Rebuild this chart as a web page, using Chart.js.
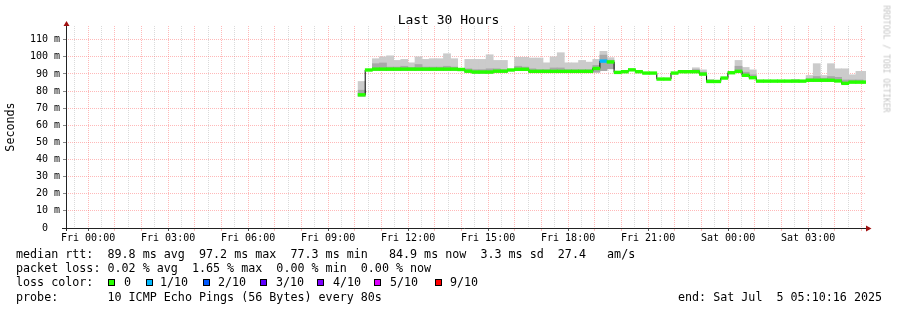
<!DOCTYPE html>
<html>
<head>
<meta charset="utf-8">
<script src="https://cdn.jsdelivr.net/npm/chart.js@4.4.1/dist/chart.umd.min.js"></script>
<style>
html, body { margin: 0; padding: 0; background: #fff; }
#wrap { position: relative; width: 897px; height: 310px; overflow: hidden; font-family: "DejaVu Sans Mono", monospace; color: #000; }
#wrap canvas { position: absolute; left: 0; top: 0; }
.t { position: absolute; white-space: pre; font-size: 11.7px; line-height: 14px; }
.box { position: absolute; width: 5px; height: 5px; border: 1px solid #000; }
#title { position: absolute; left: 0; top: 12px; width: 897px; text-align: center; font-size: 13px; line-height: 15px; }
#mark { position: absolute; left: 886px; top: 59px; font-size: 8.1px; line-height: 9px; color: #c4c4c4; white-space: pre; transform: translate(-50%, -50%) rotate(90deg); }
</style>
</head>
<body>
<div id="wrap">
  <canvas id="c" width="897" height="310"></canvas>
  <div id="title">Last 30 Hours</div>
  <div id="mark">RRDTOOL / TOBI OETIKER</div>
  <div class="t" style="left:16px;top:246.5px">median rtt:  89.8 ms avg  97.2 ms max  77.3 ms min   84.9 ms now  3.3 ms sd  27.4   am/s</div>
  <div class="t" style="left:16px;top:260.5px">packet loss: 0.02 % avg  1.65 % max  0.00 % min  0.00 % now</div>
  <div class="t" style="left:16px;top:275px">loss color:</div>
  <div id="lossKey"></div>
  <div class="t" style="left:16px;top:289.5px">probe:       10 ICMP Echo Pings (56 Bytes) every 80s</div>
  <div class="t" style="left:678px;top:289.5px">end: Sat Jul  5 05:10:16 2025</div>
</div>
<script>
// x axis is in hours counted from Fri 00:00
const startHour = -(49 / 60 + 44 / 3600);   // Thu 23:10:16
const endHour = 29 + 10 / 60 + 16 / 3600;   // Sat 05:10:16
const stepStart = 10.125;                   // first consolidated step
const stepHours = 16 / 60;

// median rtt per step (ms)
const median = [
  77.8, 92.3, 92.8, 92.8, 92.8, 92.8, 92.8, 92.8, 92.8, 92.8,
  92.8, 92.8, 92.8, 92.8, 92.6, 91.6, 91.1, 91.1, 91.1, 91.6,
  91.6, 92.3, 92.7, 92.7, 91.5, 91.5, 91.5, 91.5, 91.5, 91.5,
  91.5, 91.5, 91.5, 93.2, 97.5, 97.0, 90.9, 91.3, 92.4, 91.3,
  90.5, 90.5, 87.0, 87.0, 90.5, 91.3, 91.3, 91.3, 89.9, 85.6,
  85.6, 87.6, 90.7, 91.5, 89.2, 87.8, 85.8, 85.8, 85.8, 85.8,
  85.8, 85.8, 85.8, 86.3, 86.3, 86.3, 86.3, 85.9, 84.5, 85.2,
  85.2, 85.2
];
// loss per step, index into lossColors
const lossIdx = [
  0, 0, 0, 0, 0, 0, 0, 0, 0, 0,
  0, 0, 0, 0, 0, 0, 0, 0, 0, 0,
  0, 0, 0, 0, 0, 0, 0, 0, 0, 0,
  0, 0, 0, 0, 1, 0, 0, 0, 0, 0,
  0, 0, 0, 0, 0, 0, 0, 0, 0, 0,
  0, 0, 0, 0, 0, 0, 0, 0, 0, 0,
  0, 0, 0, 0, 0, 0, 0, 0, 0, 0,
  0, 0
];
// smoke (ping spread), outer light band
const smokeLow = [
  77.0, null, 92.0, 92.0, 92.0, 92.0, 92.0, 92.0, 92.0, 92.0,
  92.0, 92.0, 92.0, 92.0, null, 91.0, 90.5, 90.5, 90.5, 91.0,
  91.0, null, 92.0, 92.0, 91.0, 91.0, 91.0, 91.0, 91.0, 91.0,
  91.0, 91.0, 91.0, 91.0, 91.9, 93.0, null, null, null, null,
  null, null, null, null, null, null, null, 91.0, 89.5, 85.0,
  null, null, null, 91.0, 89.0, 87.5, null, null, null, null,
  null, 85.5, null, 86.0, 86.0, 86.0, 86.0, 85.5, 84.0, 85.0,
  85.0, 85.0
];
const smokeHigh = [
  85.6, null, 98.9, 100.0, 100.6, 97.9, 98.5, 96.5, 100.0, 98.5,
  98.9, 98.9, 101.8, 98.9, null, 98.5, 98.5, 98.5, 101.2, 97.9,
  97.9, null, 99.7, 99.7, 99.3, 99.3, 96.5, 100.0, 102.4, 96.5,
  96.5, 97.9, 96.9, 98.5, 103.2, 99.5, null, null, null, null,
  null, null, null, null, null, null, null, 93.6, 92.4, 86.8,
  null, null, null, 97.9, 93.8, 92.4, null, null, null, null,
  null, 86.8, null, 89.1, 96.0, 89.1, 96.0, 93.0, 93.0, 89.5,
  91.5, 91.5
];
// denser part of the smoke, darker band
const smokeDarkHigh = [
  80.5, null, 96.0, 96.4, 94.0, 94.0, 94.5, 93.8, 95.5, 94.0,
  94.0, 94.0, 94.5, 94.0, null, 93.0, 92.5, 92.5, 93.0, 93.0,
  92.5, null, 94.5, 94.0, 93.0, 92.5, 92.5, 93.5, 93.5, 92.5,
  92.5, 92.5, 92.5, 95.0, 101.0, 98.0, null, null, null, null,
  null, null, null, null, null, null, null, 92.5, 91.0, null,
  null, null, null, 94.5, 91.0, 89.5, null, null, null, null,
  null, null, null, 87.2, 88.5, 87.5, 88.5, 88.0, 86.5, 86.5,
  86.5, null
];

const lossLabels = ['0', '1/10', '2/10', '3/10', '4/10', '5/10', '9/10'];
const lossColors = ['#26ff00', '#00b8ff', '#0059ff', '#5e00ff', '#7e00ff', '#dd00ff', '#ff0000'];
const yTickValues = [0, 5, 10, 15, 20, 25, 30, 35, 40, 45, 50, 55, 60, 65, 70, 75, 80, 85, 90, 95, 100, 105, 110, 115];

// legend boxes for loss colours
const keyBoxX = [108, 146, 203, 260, 317, 374, 435];
const keyTextX = [124, 160, 218, 276, 333, 390, 450];
const key = document.getElementById('lossKey');
lossLabels.forEach((lab, i) => {
  const b = document.createElement('div');
  b.className = 'box';
  b.style.left = keyBoxX[i] + 'px';
  b.style.top = '279px';
  b.style.background = lossColors[i];
  key.appendChild(b);
  const t = document.createElement('div');
  t.className = 't';
  t.style.left = keyTextX[i] + 'px';
  t.style.top = '275px';
  t.textContent = lab;
  key.appendChild(t);
});

const centers = median.map((_, i) => stepStart + (i + 0.5) * stepHours);
const pts = arr => centers.map((x, i) => ({ x: x, y: arr[i] }));
const band = (lo, hi) => centers.map((x, i) => ({ x: x, y: (lo[i] == null || hi[i] == null) ? null : [lo[i], hi[i]] }));
const lossBand = centers.map((x, i) => ({ x: x, y: [median[i] - 0.8, median[i] + 0.8] }));

const MAJOR = 'rgba(255,100,100,0.45)';
const MINOR = 'rgba(150,150,150,0.35)';

function hourLabel(v) {
  const day = v < 24 ? 'Fri' : 'Sat';
  const h = ((v % 24) + 24) % 24;
  return day + ' ' + String(h).padStart(2, '0') + ':00';
}

const axisArrows = {
  id: 'axisArrows',
  afterDraw(chart) {
    const { ctx, chartArea: a } = chart;
    ctx.save();
    ctx.strokeStyle = '#222';
    ctx.lineWidth = 1;
    ctx.beginPath();
    ctx.moveTo(a.left - 4, a.bottom + 0.5);
    ctx.lineTo(a.right + 1, a.bottom + 0.5);
    ctx.moveTo(a.left + 0.5, a.bottom + 3);
    ctx.lineTo(a.left + 0.5, a.top - 1);
    ctx.stroke();
    ctx.fillStyle = '#a01010';
    ctx.beginPath();
    ctx.moveTo(a.left + 0.5, a.top - 5);
    ctx.lineTo(a.left - 2.5, a.top);
    ctx.lineTo(a.left + 3.5, a.top);
    ctx.closePath();
    ctx.fill();
    ctx.beginPath();
    ctx.moveTo(a.right + 5.5, a.bottom + 0.5);
    ctx.lineTo(a.right, a.bottom - 2.5);
    ctx.lineTo(a.right, a.bottom + 3.5);
    ctx.closePath();
    ctx.fill();
    ctx.restore();
  }
};

const barCommon = { type: 'bar', grouped: false, barPercentage: 1, categoryPercentage: 1, borderWidth: 0 };

new Chart(document.getElementById('c'), {
  type: 'bar',
  data: {
    datasets: [
      Object.assign({}, barCommon, {
        label: 'loss', data: lossBand, order: 1,
        backgroundColor: ctx => lossColors[lossIdx[ctx.dataIndex]] || lossColors[0]
      }),
      {
        type: 'line', label: 'median', data: pts(median), order: 2,
        stepped: 'middle', borderColor: '#000', borderWidth: 1, pointRadius: 0, fill: false
      },
      Object.assign({}, barCommon, {
        label: 'smoke dark', data: band(smokeLow, smokeDarkHigh), order: 3, backgroundColor: '#a8a8a8'
      }),
      Object.assign({}, barCommon, {
        label: 'smoke', data: band(smokeLow, smokeHigh), order: 4, backgroundColor: '#cbcbcb'
      })
    ]
  },
  options: {
    responsive: false,
    animation: false,
    devicePixelRatio: 1,
    layout: { padding: { top: 26, right: 31, bottom: 0, left: 0 } },
    plugins: { legend: { display: false }, tooltip: { enabled: false }, title: { display: false } },
    scales: {
      x: {
        type: 'linear',
        min: startHour,
        max: endHour,
        offset: false,
        afterBuildTicks: s => {
          const t = [];
          for (let v = -0.5; v <= 29; v += 0.5) t.push({ value: v });
          s.ticks = t;
        },
        afterFit: s => { s.height = 82; },
        ticks: {
          autoSkip: false, maxRotation: 0, padding: 1, color: '#000',
          font: { family: 'DejaVu Sans Mono', size: 10 },
          callback: v => (v % 3 === 0 ? hourLabel(v) : '')
        },
        grid: {
          offset: false,
          color: c => (c.tick && c.tick.value % 1 === 0 ? MAJOR : MINOR),
          tickLength: 3,
          tickColor: c => (c.tick && c.tick.value % 3 === 0 ? '#555' : (c.tick && c.tick.value % 1 === 0 ? MAJOR : 'rgba(0,0,0,0)'))
        },
        border: { display: false, dash: [1, 1] }
      },
      y: {
        min: 0,
        max: 118,
        afterBuildTicks: s => { s.ticks = yTickValues.map(v => ({ value: v })); },
        afterFit: s => { s.width = 66; },
        ticks: {
          padding: 3, color: '#000',
          font: { family: 'DejaVu Sans Mono', size: 10 },
          callback: v => (v % 10 === 0 ? (v === 0 ? '0  ' : v + ' m') : '')
        },
        grid: {
          color: c => (c.tick && c.tick.value % 10 === 0 ? MAJOR : MINOR),
          tickLength: 3,
          tickColor: c => (c.tick && c.tick.value % 10 === 0 ? '#888' : 'rgba(0,0,0,0)')
        },
        border: { display: false, dash: [1, 1] },
        title: {
          display: true, text: 'Seconds', color: '#000',
          font: { family: 'DejaVu Sans Mono', size: 11.7 },
          padding: { top: 4, bottom: 0 }
        }
      }
    }
  },
  plugins: [axisArrows]
});
</script>
</body>
</html>
